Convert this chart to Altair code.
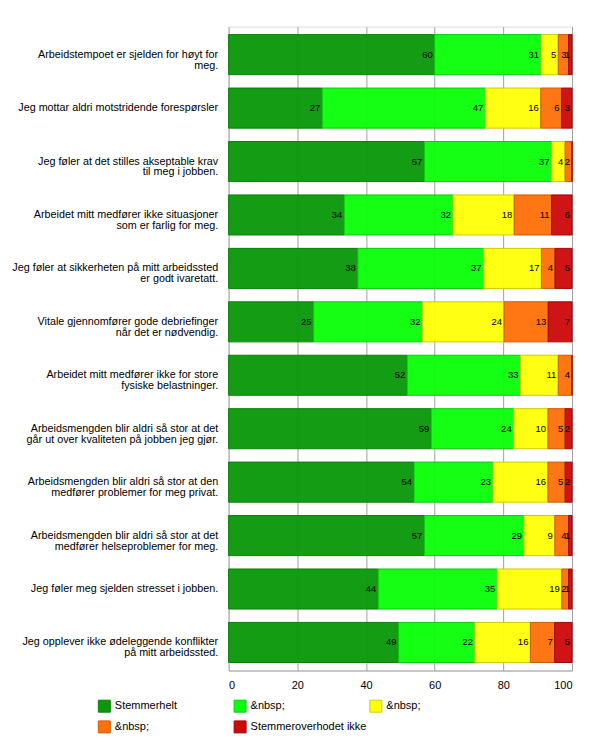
import altair as alt
import pandas as pd

questions = [
    "Arbeidstempoet er sjelden for høyt for|meg.",
    "Jeg mottar aldri motstridende forespørsler",
    "Jeg føler at det stilles akseptable krav|til meg i jobben.",
    "Arbeidet mitt medfører ikke situasjoner|som er farlig for meg.",
    "Jeg føler at sikkerheten på mitt arbeidssted|er godt ivaretatt.",
    "Vitale gjennomfører gode debriefinger|når det er nødvendig.",
    "Arbeidet mitt medfører ikke for store|fysiske belastninger.",
    "Arbeidsmengden blir aldri så stor at det|går ut over kvaliteten på jobben jeg gjør.",
    "Arbeidsmengden blir aldri så stor at den|medfører problemer for meg privat.",
    "Arbeidsmengden blir aldri så stor at det|medfører helseproblemer for meg.",
    "Jeg føler meg sjelden stresset i jobben.",
    "Jeg opplever ikke ødeleggende konflikter|på mitt arbeidssted.",
]

v1 = [60, 27, 57, 34, 38, 25, 52, 59, 54, 57, 44, 49]
v2 = [31, 47, 37, 32, 37, 32, 33, 24, 23, 29, 35, 22]
v3 = [5, 16, 4, 18, 17, 24, 11, 10, 16, 9, 19, 16]
v4 = [3, 6, 2, 11, 4, 13, 4, 5, 5, 4, 2, 7]
v5 = [1, 3, 0, 6, 5, 7, 0, 2, 2, 1, 1, 5]

series_keys = ["k1", "k2", "k3", "k4", "k5"]
series_labels = ["Stemmerhelt", "&nbsp;", "&nbsp;", "&nbsp;", "Stemmeroverhodet ikke"]
fill_colors = ["#0b980b", "#0aff0a", "#ffff0a", "#ff700a", "#cc0a0a"]
stroke_colors = ["#0a800a", "#0bcc0b", "#cccc08", "#cc5a08", "#a00808"]
x_ticks = [0, 20, 40, 60, 80, 100]

series_values = [v1, v2, v3, v4, v5]
rows = []
for si, (key, vals) in enumerate(zip(series_keys, series_values)):
    for q, v in zip(questions, vals):
        rows.append({"question": q, "key": key, "order": si, "value": v})
df = pd.DataFrame(rows)

keys_js = "[" + ",".join(f"'{k}'" for k in series_keys) + "]"
labels_js = "[" + ",".join(f"'{l}'" for l in series_labels) + "]"
legend_expr = f"{labels_js}[indexof({keys_js}, datum.label)]"

legend = alt.Legend(
    title=None,
    orient="none",
    legendX=-131,
    legendY=674,
    columns=3,
    direction="horizontal",
    gridAlign="all",
    columnPadding=0,
    rowPadding=4,
    symbolType="square",
    symbolSize=144,
    symbolStrokeWidth=1,
    labelOffset=4,
    labelFont="Liberation Sans",
    labelFontSize=11,
    labelColor="#000000",
    labelExpr=legend_expr,
    padding=0,
)

base = alt.Chart(df).transform_joinaggregate(
    total="sum(value)", groupby=["question"]
).transform_calculate(
    pct="datum.value / datum.total * 100"
).transform_stack(
    stack="pct", groupby=["question"], sort=[alt.SortField("order")], as_=["x0", "x1"]
)

yenc = alt.Y(
    "question:N",
    sort=questions,
    title=None,
    scale=alt.Scale(paddingInner=0.25, paddingOuter=0.15),
    axis=alt.Axis(
        labelExpr="split(datum.label, '|')",
        labelFont="Liberation Sans",
        labelFontSize=10.8,
        labelLineHeight=11,
        labelColor="#000000",
        labelPadding=11,
        ticks=False,
        domain=False,
        labelLimit=300,
        grid=False,
    ),
)

bars = base.mark_bar(strokeWidth=1, fillOpacity=0.96).encode(
    x=alt.X(
        "x0:Q",
        scale=alt.Scale(domain=[0, 100], nice=False),
        title=None,
        axis=alt.Axis(
            values=x_ticks,
            grid=True,
            gridColor="#a0a0a0",
            gridOpacity=1,
            ticks=False,
            domainColor="#a0a0a0",
            labelFont="Liberation Sans",
            labelFontSize=11,
            labelColor="#000000",
            labelPadding=9,
        ),
    ),
    x2="x1:Q",
    y=yenc,
    fill=alt.Fill("key:N", scale=alt.Scale(domain=series_keys, range=fill_colors), legend=legend),
    stroke=alt.Stroke("key:N", scale=alt.Scale(domain=series_keys, range=stroke_colors), legend=legend),
)

texts = base.transform_filter("datum.value > 0").mark_text(
    align="right", baseline="middle", dx=-2, font="Liberation Sans", fontSize=9.5, color="#000000"
).encode(
    x="x1:Q",
    y=alt.Y("question:N", sort=questions),
    text="value:Q",
)

chart = alt.layer(bars, texts).properties(
    width=344,
    height=645,
    padding={"left": 221, "top": 18, "right": 20, "bottom": 80},
    autosize=alt.AutoSizeParams(type="none"),
).configure_view(
    stroke="#a0a0a0", strokeWidth=1
).configure(background="#ffffff")

chart.save("out.html", embed_options={"renderer": "svg", "actions": False})
